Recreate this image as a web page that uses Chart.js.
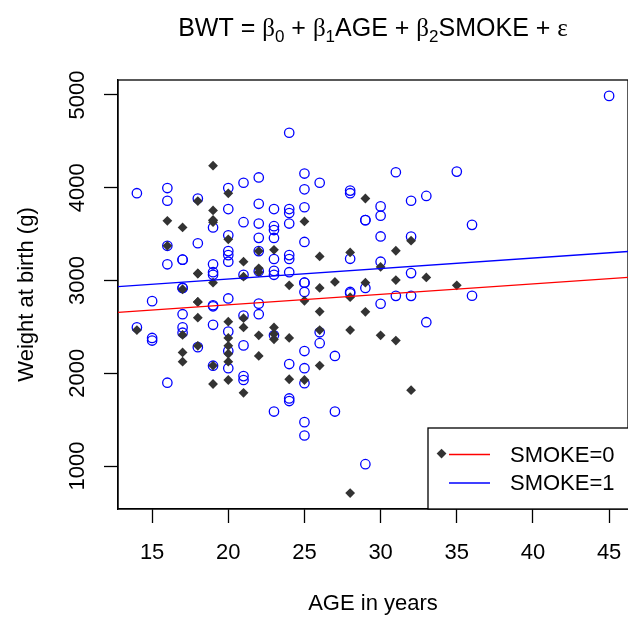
<!DOCTYPE html>
<html>
<head>
<meta charset="utf-8">
<script src="https://cdn.jsdelivr.net/npm/chart.js@4"></script>
<style>
  html, body { margin: 0; padding: 0; overflow: hidden; background: #fff; }
</style>
</head>
<body>
<canvas id="chart" width="634" height="621" style="width:634px;height:621px;display:block"></canvas>
<script>
// ── Data: birth weight vs mother's age ─────────────────────
// blue open circles
const circleAge = [19, 33, 21, 22, 17, 19, 19, 22, 30, 15, 20, 32, 31, 36, 28, 25, 28, 29, 17, 17,
  25, 25, 19, 23, 21, 32, 19, 24, 22, 23, 19, 16, 30, 20, 17, 17, 23, 24, 28, 20,
  24, 20, 22, 16, 18, 25, 23, 22, 32, 30, 20, 23, 19, 23, 36, 22, 24, 21, 29, 29,
  30, 24, 24, 23, 20, 25, 30, 22, 16, 32, 18, 33, 28, 14, 28, 25, 16, 20, 26, 21,
  22, 25, 31, 35, 24, 45,
  29, 25, 25, 27, 23, 24, 24, 25, 16, 21, 21, 20, 25, 19, 24, 27, 25, 20, 18, 21,
  26, 15, 15, 23, 17, 26, 20, 14, 17];
const circleBwt = [2523, 2551, 2622, 2637, 2637, 2722, 2733, 2751, 2750, 2778, 2807, 2835, 2835, 2836, 2863, 2877, 2877, 2920, 2920, 2920,
  2977, 2977, 3062, 3062, 3062, 3080, 3090, 3090, 3100, 3104, 3175, 3175, 3203, 3203, 3225, 3225, 3232, 3232, 3234, 3274,
  3274, 3317, 3317, 3374, 3402, 3416, 3459, 3460, 3473, 3475, 3487, 3544, 3572, 3586, 3600, 3614, 3614, 3629, 3651, 3651,
  3699, 3728, 3770, 3770, 3770, 3790, 3799, 3827, 3860, 3860, 3884, 3912, 3941, 3941, 3969, 3983, 3997, 3997, 4054, 4054,
  4111, 4153, 4167, 4174, 4593, 4990,
  1021, 1330, 1474, 1588, 1588, 1701, 1729, 1893, 1899, 1928, 1970, 2055, 2055, 2082, 2100, 2187, 2240, 2240, 2282, 2301,
  2325, 2353, 2381, 2410, 2438, 2442, 2450, 2495, 2495];

// dark filled diamonds
const diamondAge = [20, 21, 18, 29, 26, 18, 18, 25, 28, 17, 26, 24, 35, 29, 19, 27, 31, 33, 21, 18,
  18, 22, 22, 30, 21, 26, 28, 22, 31, 23, 16, 32, 20, 17, 19, 25, 16, 19, 19, 19,
  18, 29, 20, 19,
  28, 34, 21, 32, 19, 25, 20, 24, 19, 26, 17, 20, 22, 20, 17, 18, 20, 31, 23, 20,
  24, 30, 22, 17, 23, 26, 14, 28, 23, 21];
const diamondBwt = [2557, 2594, 2600, 2663, 2665, 2769, 2769, 2782, 2821, 2906, 2920, 2948, 2948, 2977, 2977, 2985, 3005, 3033, 3042, 3076,
  3076, 3090, 3132, 3147, 3203, 3260, 3303, 3317, 3321, 3331, 3374, 3430, 3444, 3572, 3629, 3637, 3643, 3651, 3651, 3756,
  3856, 3884, 3940, 4238,
  709, 1135, 1790, 1818, 1885, 1928, 1928, 1936, 2084, 2084, 2125, 2126, 2187, 2211, 2225, 2296, 2296, 2353, 2367, 2381,
  2381, 2410, 2410, 2414, 2424, 2466, 2466, 2466, 2495, 2495];

// fitted lines, read at the two edges of the plot
const lineAge     = [12.76, 46.24];
const blueLineBwt = [2935, 3313];
const redLineBwt  = [2657, 3035];

const xTicks = [15, 20, 25, 30, 35, 40, 45];
const yTicks = [1000, 2000, 3000, 4000, 5000];
const legendLabels = ['SMOKE=0', 'SMOKE=1'];

// ── Styles ─────────────────────────────────────────────────
const FONT  = '"Liberation Sans", Arial, sans-serif';
const SERIF = '"Liberation Serif", "Times New Roman", serif';
const BLUE = '#0000FF';
const RED  = '#FF0000';
const DARK = '#333333';

// ── Plugins: frame + legend box, plotmath-style title ─────
const frameAndLegend = {
  id: 'frameAndLegend',
  beforeDatasetsDraw(chart) {
    const { ctx, chartArea: a } = chart;
    ctx.save();
    ctx.strokeStyle = '#000';
    ctx.lineWidth = 1.3;
    ctx.strokeRect(a.left, a.top, a.right - a.left, a.bottom - a.top);

    const x0 = a.right - 200, y0 = a.bottom - 81;
    ctx.fillStyle = '#fff';
    ctx.fillRect(x0, y0, 200, 81);
    ctx.strokeRect(x0, y0, 210, 81);

    const colors = [RED, BLUE];
    ctx.font = '22px ' + FONT;
    ctx.textBaseline = 'middle';
    ctx.textAlign = 'left';
    legendLabels.forEach((lab, i) => {
      const y = y0 + 26.5 + i * 28.5;
      ctx.strokeStyle = colors[i];
      ctx.beginPath();
      ctx.moveTo(x0 + 21, y);
      ctx.lineTo(x0 + 62, y);
      ctx.stroke();
      ctx.fillStyle = '#000';
      ctx.fillText(lab, x0 + 82, y + 1);
    });
    ctx.restore();
  }
};

const mathTitle = {
  id: 'mathTitle',
  afterDraw(chart) {
    const { ctx, chartArea: a } = chart;
    const big = '25px ' + FONT, greek = '25px ' + SERIF, sub = '17px ' + FONT;
    const parts = [
      ['BWT = ', big, 0], ['β', greek, 0], ['0', sub, 6],
      [' + ', big, 0], ['β', greek, 0], ['1', sub, 6],
      ['AGE + ', big, 0], ['β', greek, 0], ['2', sub, 6],
      ['SMOKE + ', big, 0], ['ε', greek, 0]
    ];
    ctx.save();
    let total = 0;
    parts.forEach(p => { ctx.font = p[1]; total += ctx.measureText(p[0]).width; });
    let x = (a.left + a.right) / 2 - total / 2;
    const base = 36;
    ctx.fillStyle = '#000';
    ctx.textBaseline = 'alphabetic';
    ctx.textAlign = 'left';
    parts.forEach(p => {
      ctx.font = p[1];
      ctx.fillText(p[0], x, base + p[2]);
      x += ctx.measureText(p[0]).width;
    });
    ctx.restore();
  }
};

// ── Chart ──────────────────────────────────────────────────
const toPoints = (xs, ys) => xs.map((x, i) => ({ x, y: ys[i] }));

new Chart(document.getElementById('chart'), {
  type: 'scatter',
  data: {
    datasets: [
      {
        type: 'line', data: toPoints(lineAge, blueLineBwt), order: 0,
        borderColor: BLUE, borderWidth: 1.3, pointRadius: 0, fill: false
      },
      {
        type: 'line', data: toPoints(lineAge, redLineBwt), order: 0,
        borderColor: RED, borderWidth: 1.3, pointRadius: 0, fill: false
      },
      {
        data: toPoints(diamondAge, diamondBwt), order: 1,
        pointStyle: 'rectRot', pointRadius: 4.9,
        backgroundColor: DARK, borderColor: DARK, borderWidth: 0
      },
      {
        data: toPoints(circleAge, circleBwt), order: 2,
        pointStyle: 'circle', pointRadius: 4.7,
        backgroundColor: 'rgba(0,0,0,0)', borderColor: BLUE, borderWidth: 1.3
      }
    ]
  },
  options: {
    responsive: false,
    animation: false,
    events: [],
    layout: { padding: { top: 80, right: 4, left: 0, bottom: 0 } },
    plugins: { legend: { display: false }, tooltip: { enabled: false } },
    scales: {
      x: {
        type: 'linear', min: 12.76, max: 46.24,
        afterBuildTicks: s => { s.ticks = xTicks.map(v => ({ value: v })); },
        afterFit: s => { s.height = 112; s.paddingLeft = 0; s.paddingRight = 0; },
        grid: { drawOnChartArea: false, drawTicks: true, tickLength: 14, tickWidth: 1.3, tickColor: '#000' },
        border: { display: true, color: '#000', width: 1.3 },
        ticks: { color: '#000', font: { family: FONT, size: 22 }, padding: 17, maxRotation: 0, autoSkip: false,
                 callback: v => String(v) },
        title: { display: true, text: 'AGE in years', color: '#000', font: { family: FONT, size: 22 }, padding: { top: 0, bottom: 4 } }
      },
      y: {
        type: 'linear', min: 537.76, max: 5161.24,
        afterBuildTicks: s => { s.ticks = yTicks.map(v => ({ value: v })); },
        afterFit: s => { s.width = 118; s.paddingTop = 0; s.paddingBottom = 0; },
        grid: { drawOnChartArea: false, drawTicks: true, tickLength: 14, tickWidth: 1.3, tickColor: '#000' },
        border: { display: true, color: '#000', width: 1.3 },
        ticks: { color: '#000', font: { family: FONT, size: 22 }, padding: 2, minRotation: 90, maxRotation: 90,
                 crossAlign: 'center', autoSkip: false, callback: v => String(v) },
        title: { display: true, text: 'Weight at birth (g)', color: '#000', font: { family: FONT, size: 22 }, padding: { top: 14, bottom: 0 } }
      }
    }
  },
  plugins: [frameAndLegend, mathTitle]
});
</script>
</body>
</html>
